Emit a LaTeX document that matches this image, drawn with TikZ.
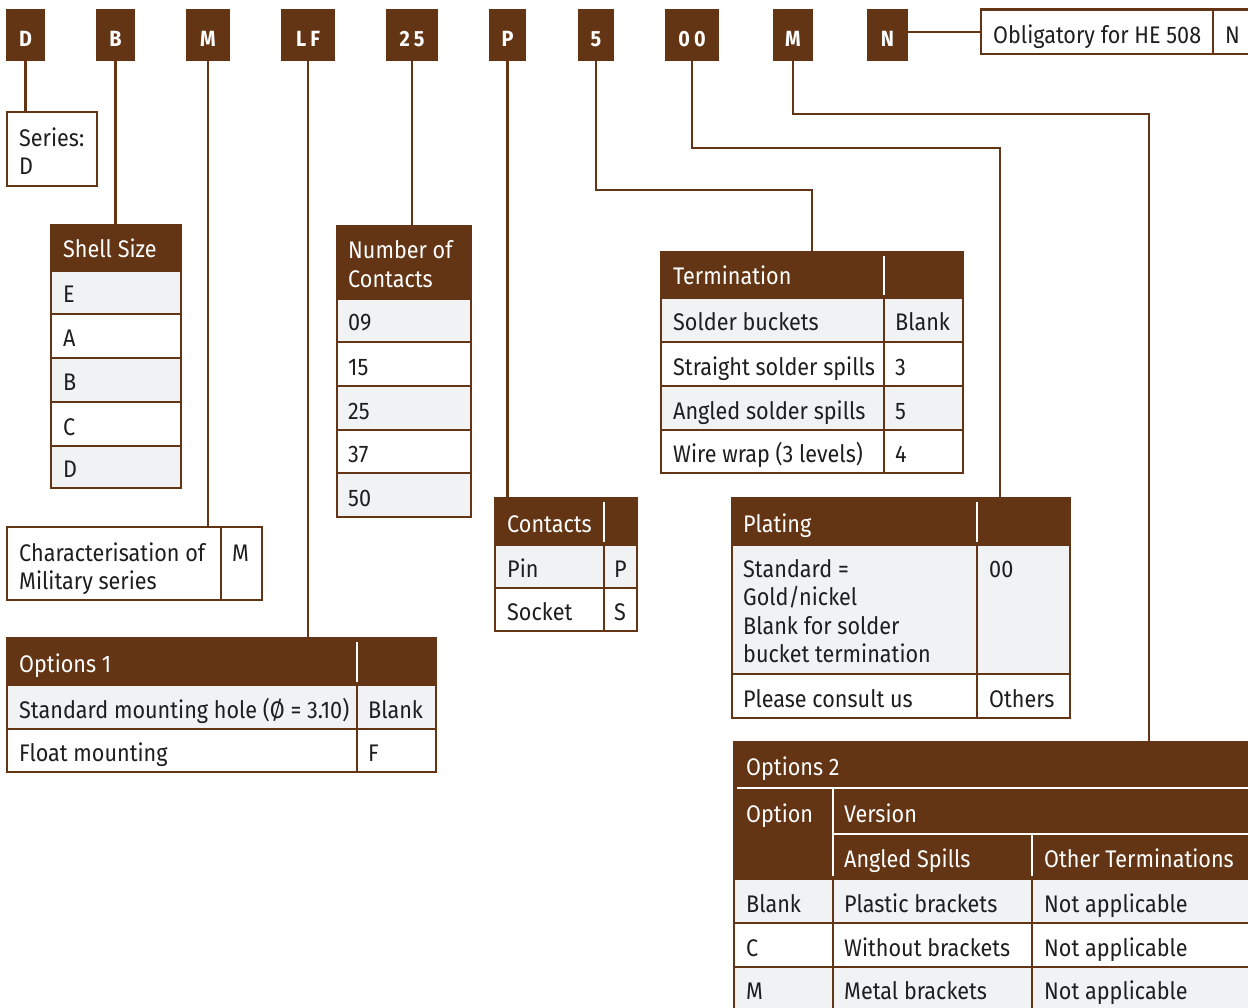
\documentclass[tikz,border=0pt]{standalone}
\usepackage{fontspec}
\setmainfont[FakeStretch=0.9]{Fira Sans}
\definecolor{brn}{HTML}{633514}
\definecolor{lgray}{HTML}{F1F2F4}
\definecolor{ink}{HTML}{1E1E1E}
\tikzset{
  conn/.style={draw=brn, line width=2.2pt},
  hdr/.style={fill=brn, draw=brn, line width=2.6pt, inner sep=0pt, outer sep=0pt, anchor=north west},
  rowg/.style={fill=lgray, draw=brn, line width=2.6pt},
  roww/.style={fill=white, draw=brn, line width=2.6pt},
  boxw/.style={fill=white, draw=brn, line width=2.6pt, inner sep=0pt, outer sep=0pt, anchor=north west},
  divb/.style={draw=brn, line width=2.6pt},
  sepw/.style={draw=white, line width=2pt},
  code/.style={fill=brn, inner sep=0pt, outer sep=0pt, anchor=north west, minimum height=52pt,
    text height=24pt, text depth=0pt, text=white,
    font=\bfseries\fontsize{22}{22}\selectfont},
  txt/.style={anchor=base west, inner sep=0pt, text=ink, font=\fontsize{24}{28}\selectfont},
  htxt/.style={txt, text=white},
}
\begin{document}
\begin{tikzpicture}[x=1pt,y=-1pt]
\clip (0,0) rectangle (1248,1008);
\fill[white] (0,0) rectangle (1248,1008);

% code boxes
\node[code, minimum width=39pt] (cD)  at (6,9)   {D};
\node[code, minimum width=39pt] (cB)  at (96,9)  {B};
\node[code, minimum width=44pt] (cM)  at (186,9) {M};
\node[code, minimum width=54pt] (cLF) at (281,9) {L\hspace{4pt}F};
\node[code, minimum width=52pt] (c25) at (386,9) {2\hspace{4pt}5};
\node[code, minimum width=37pt] (cP)  at (489,9) {P};
\node[code, minimum width=36pt] (c5)  at (578,9) {5};
\node[code, minimum width=54pt] (c00) at (665,9) {0\hspace{4pt}0};
\node[code, minimum width=40pt] (cM2) at (773,9) {M};
\node[code, minimum width=41pt] (cN)  at (867,9) {N};

% anchor nodes of the tables (headers / boxes)
\node[boxw, minimum width=90pt, minimum height=74pt] (series) at (7,112) {};
\node[hdr, minimum width=130pt, minimum height=46pt] (shell) at (51,225) {};
\node[hdr, minimum width=134pt, minimum height=73pt] (ncont) at (337,226) {};
\node[boxw, minimum width=255pt, minimum height=73pt] (charac) at (7,527) {};
\node[hdr, minimum width=429pt, minimum height=47pt] (opt1) at (7,638) {};
\node[hdr, minimum width=142pt, minimum height=47pt] (contacts) at (495,498) {};
\node[hdr, minimum width=302pt, minimum height=46pt] (term) at (661,252) {};
\node[hdr, minimum width=338pt, minimum height=47pt] (plating) at (732,498) {};
\node[hdr, minimum width=540pt, minimum height=137pt] (opt2) at (734,742) {};
\node[boxw, minimum width=300pt, minimum height=44.5pt] (oblig) at (981,9.5) {};

% connectors
\coordinate (k5)  at (812,190);
\coordinate (k00) at (1000,148);
\coordinate (kM)  at (1149,114);
\draw[conn] (cD.south) -- (cD.south |- series.north);
\draw[conn] (cB.south) -- (cB.south |- shell.north);
\draw[conn] (cM.south) -- (cM.south |- charac.north);
\draw[conn] (cLF.south) -- (cLF.south |- opt1.north);
\draw[conn] (c25.south) -- (c25.south |- ncont.north);
\draw[conn] (cP.south) -- (cP.south |- contacts.north);
\draw[conn] (c5.south) |- (k5) -- (k5 |- term.north);
\draw[conn] (c00.south) |- (k00) -- (k00 |- plating.north);
\draw[conn] (cM2.south) |- (kM) -- (kM |- opt2.north);
\draw[conn] (cN.east |- oblig.west) -- (oblig.west);

% Series
\node[txt] (t-series1) at (19,147) {Series:};
\node[txt] (t-series2) at (19,175) {D};

% Obligatory
\draw[divb] (1213,9.5) -- (1213,54);
\node[txt] (t-obl) at (993,44) {Obligatory for HE 508};
\node[txt] (t-oblN) at (1225,44) {N};

% Shell size
\path[rowg] (51,271) rectangle (181,314);
\path[roww] (51,314) rectangle (181,358);
\path[rowg] (51,358) rectangle (181,402);
\path[roww] (51,402) rectangle (181,446);
\path[rowg] (51,446) rectangle (181,488);
\node[htxt] (t-shell) at (63,258) {Shell Size};
\node[txt] (t-sE) at (63,303) {E};
\node[txt] (t-sA) at (63,347) {A};
\node[txt] (t-sB) at (63,391) {B};
\node[txt] (t-sC) at (63,435) {C};
\node[txt] (t-sD) at (63,477) {D};

% Number of contacts
\path[rowg] (337,299) rectangle (471,342);
\path[roww] (337,342) rectangle (471,386);
\path[rowg] (337,386) rectangle (471,430);
\path[roww] (337,430) rectangle (471,473);
\path[rowg] (337,473) rectangle (471,517);
\node[htxt] (t-nc1) at (348,259) {Number of};
\node[htxt] (t-nc2) at (348,288) {Contacts};
\node[txt] (t-n09) at (348,331) {09};
\node[txt] (t-n15) at (348,375) {15};
\node[txt] (t-n25) at (348,419) {25};
\node[txt] (t-n37) at (348,462) {37};
\node[txt] (t-n50) at (348,506) {50};

% Characterisation
\draw[divb] (221,527) -- (221,600);
\node[txt] (t-ch1) at (19,561) {Characterisation of};
\node[txt] (t-ch2) at (19,589) {Military series};
\node[txt] (t-chM) at (232,561) {M};

% Options 1
\path[rowg] (7,685) rectangle (436,729);
\path[roww] (7,729) rectangle (436,772);
\draw[divb] (357,685) -- (357,772);
\draw[sepw] (357,642) -- (357,682);
\node[htxt] (t-o1) at (19,672) {Options 1};
\node[txt] (t-o1a) at (19,718) {Standard mounting hole (Ø = 3.10)};
\node[txt] (t-o1aV) at (368,718) {Blank};
\node[txt] (t-o1b) at (19,761) {Float mounting};
\node[txt] (t-o1bV) at (368,761) {F};

% Contacts
\path[rowg] (495,545) rectangle (637,588);
\path[roww] (495,588) rectangle (637,631);
\draw[divb] (604,545) -- (604,631);
\draw[sepw] (604,502) -- (604,542);
\node[htxt] (t-ct) at (507,532) {Contacts};
\node[txt] (t-pin) at (507,577) {Pin};
\node[txt] (t-pinV) at (614,577) {P};
\node[txt] (t-sock) at (507,620) {Socket};
\node[txt] (t-sockV) at (614,620) {S};

% Termination
\path[rowg] (661,298) rectangle (963,342);
\path[roww] (661,342) rectangle (963,386);
\path[rowg] (661,386) rectangle (963,430);
\path[roww] (661,430) rectangle (963,473);
\draw[divb] (884,298) -- (884,473);
\draw[sepw] (884,256) -- (884,295);
\node[htxt] (t-term) at (673,285) {Termination};
\node[txt] (t-tr1) at (673,331) {Solder buckets};
\node[txt] (t-tr1V) at (895,331) {Blank};
\node[txt] (t-tr2) at (673,375) {Straight solder spills};
\node[txt] (t-tr2V) at (895,375) {3};
\node[txt] (t-tr3) at (673,419) {Angled solder spills};
\node[txt] (t-tr3V) at (895,419) {5};
\node[txt] (t-tr4) at (673,462) {Wire wrap (3 levels)};
\node[txt] (t-tr4V) at (895,462) {4};

% Plating
\path[rowg] (732,545) rectangle (1070,674);
\path[roww] (732,674) rectangle (1070,718);
\draw[divb] (977,545) -- (977,718);
\draw[sepw] (977,502) -- (977,542);
\node[htxt] (t-pl) at (743,532) {Plating};
\node[txt] (t-pl1) at (743,577) {Standard =};
\node[txt] (t-pl2) at (743,605) {Gold/nickel};
\node[txt] (t-pl3) at (743,634) {Blank for solder};
\node[txt] (t-pl4) at (743,662) {bucket termination};
\node[txt] (t-pl1V) at (989,577) {00};
\node[txt] (t-pl5) at (743,707) {Please consult us};
\node[txt] (t-pl5V) at (989,707) {Others};

% Options 2
\path[rowg] (734,879) rectangle (1274,923);
\path[roww] (734,923) rectangle (1274,967);
\path[rowg] (734,967) rectangle (1274,1020);
\draw[divb] (833,879) -- (833,1020);
\draw[divb] (1032,879) -- (1032,1020);
\draw[sepw] (737,788) -- (1274,788);
\draw[sepw] (833,788) -- (833,876);
\draw[sepw] (833,834) -- (1274,834);
\draw[sepw] (1032,834) -- (1032,876);
\node[htxt] (t-o2) at (746,775) {Options 2};
\node[htxt] (t-o2h1) at (746,822) {Option};
\node[htxt] (t-o2h2) at (844,822) {Version};
\node[htxt] (t-o2h3) at (844,867) {Angled Spills};
\node[htxt] (t-o2h4) at (1044,867) {Other Terminations};
\node[txt] (t-o2a1) at (746,912) {Blank};
\node[txt] (t-o2a2) at (844,912) {Plastic brackets};
\node[txt] (t-o2a3) at (1044,912) {Not applicable};
\node[txt] (t-o2b1) at (746,956) {C};
\node[txt] (t-o2b2) at (844,956) {Without brackets};
\node[txt] (t-o2b3) at (1044,956) {Not applicable};
\node[txt] (t-o2c1) at (746,999) {M};
\node[txt] (t-o2c2) at (844,999) {Metal brackets};
\node[txt] (t-o2c3) at (1044,999) {Not applicable};
\end{tikzpicture}
\end{document}
